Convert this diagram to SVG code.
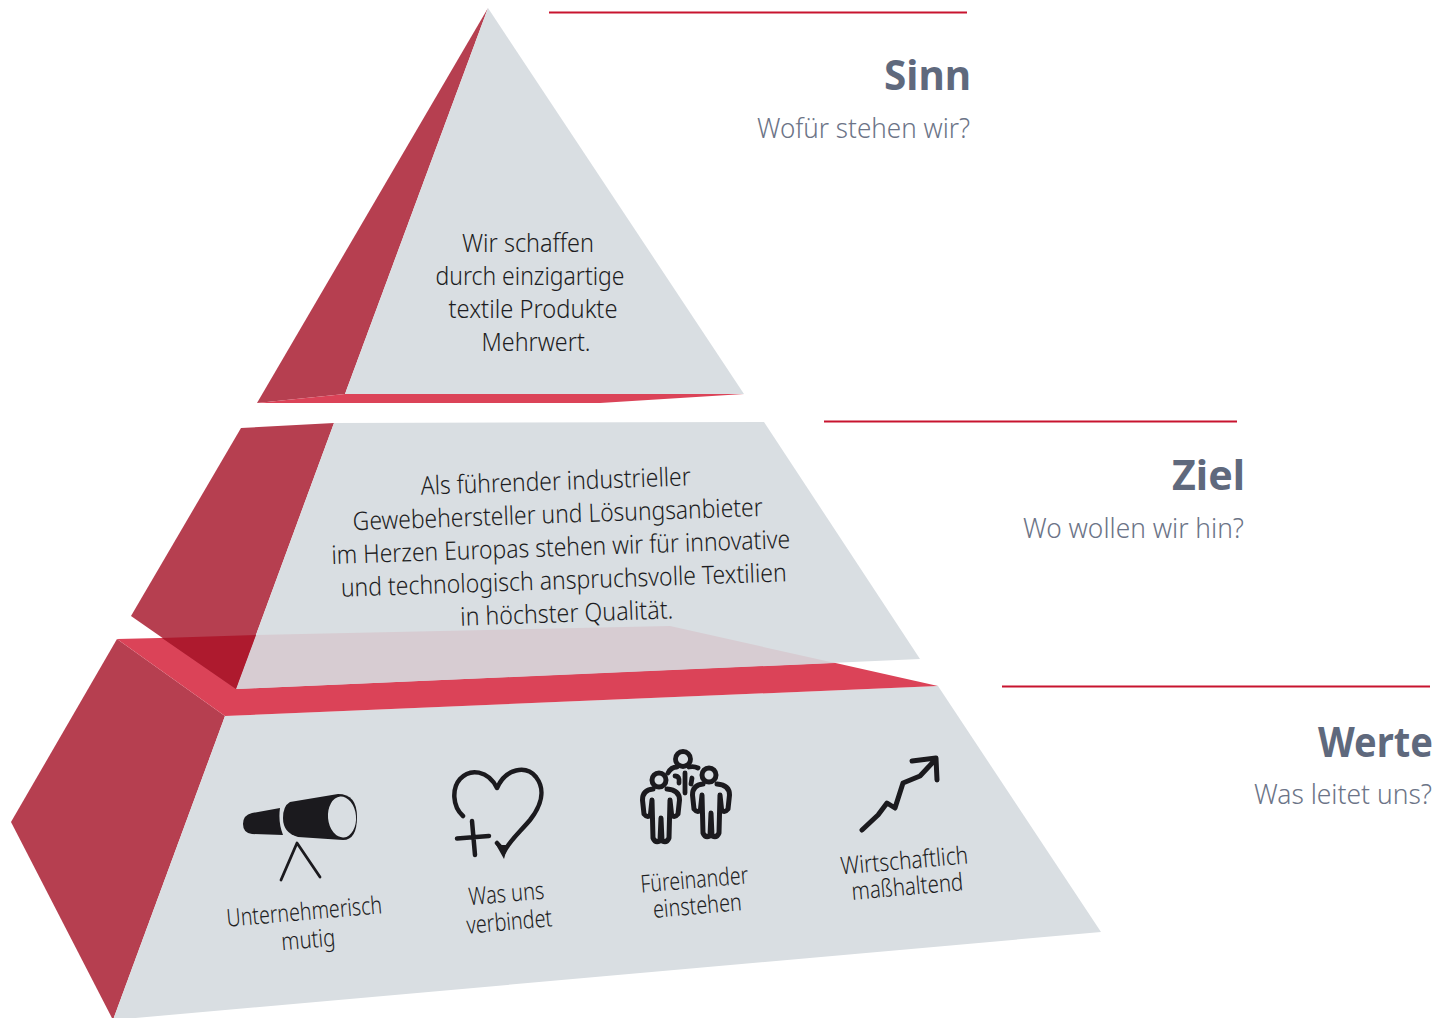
<svg xmlns="http://www.w3.org/2000/svg" width="1441" height="1018" viewBox="0 0 1441 1018">
<style>
.g{fill:#d9dee2}.s{fill:#b63f50}.t{fill:#db4358}
.b{font-family:"Noto Sans","Liberation Sans",sans-serif;font-weight:300;fill:#1d1d22;text-anchor:middle}
.m{font-size:25.500px}.l{font-size:24.500px}
.h{font-family:"Noto Sans","Liberation Sans",sans-serif;font-weight:700;font-size:41px;fill:#5f697d;text-anchor:end}
.q{font-family:"Noto Sans","Liberation Sans",sans-serif;font-weight:300;font-size:28px;fill:#6c7487;text-anchor:end}
.r{stroke:#c8142f;stroke-width:2;fill:none}
.i{fill:none;stroke:#1b1a1e;stroke-linecap:round;stroke-linejoin:round}
</style>
<defs>
<g id="person" class="i" stroke-width="5">
<circle cx="-2" cy="0" r="7"/>
<path d="M-8,9Q-18.500,10-18.500,20L-17,34Q-13,39-10.500,34L-9,20L-8,58Q-6,63-1,61L0,38L1,61Q6,63 8,58L9,20L10.500,34Q13,39 17,34L18.500,20Q18.500,10 6,9"/>
</g>
</defs>
<g id="tier-werte">
<polygon class="s" points="117,639 225,716 113,1020 11,822"/>
<polygon class="g" points="225,716 938,686 1101,932 113,1020"/>
<polygon class="t" points="117,639 670,626 938,686 225,716"/>
</g>
<g id="tier-ziel">
<polygon class="s" points="241,428 334,423 236,689 131,616"/>
<polygon class="g" points="334,423 764,422 920,659 236,689"/>
<polygon fill="#d7ccd2" points="256,635 670,626 835,663 236,689"/>
<polygon fill="#ae1a2e" points="162,638 256,635 236,689"/>
<text class="b m" textLength="270" lengthAdjust="spacingAndGlyphs" transform="rotate(-2 556 490)" x="556" y="490">Als führender industrieller</text>
<text class="b m" textLength="410" lengthAdjust="spacingAndGlyphs" transform="rotate(-2 558 523)" x="558" y="523">Gewebehersteller und Lösungsanbieter</text>
<text class="b m" textLength="459" lengthAdjust="spacingAndGlyphs" transform="rotate(-2 561 556)" x="561" y="556">im Herzen Europas stehen wir für innovative</text>
<text class="b m" textLength="446" lengthAdjust="spacingAndGlyphs" transform="rotate(-2 564 589)" x="564" y="589">und technologisch anspruchsvolle Textilien</text>
<text class="b m" textLength="213" lengthAdjust="spacingAndGlyphs" transform="rotate(-2 567 622)" x="567" y="622">in höchster Qualität.</text>
</g>
<g id="tier-sinn">
<polygon class="s" points="488,8 345,394 257,403"/>
<polygon class="g" points="488,8 744,394 345,394"/>
<polygon class="t" points="257,403 345,394 744,394 600,403"/>
<text class="b m" textLength="132" lengthAdjust="spacingAndGlyphs" x="528" y="252">Wir schaffen</text>
<text class="b m" textLength="189" lengthAdjust="spacingAndGlyphs" x="530" y="285">durch einzigartige</text>
<text class="b m" textLength="169" lengthAdjust="spacingAndGlyphs" x="533" y="318">textile Produkte</text>
<text class="b m" textLength="109" lengthAdjust="spacingAndGlyphs" x="536" y="351">Mehrwert.</text>
</g>
<g id="icon-telescope">
<path fill="#1b1a1e" d="M280,808L252,813Q243,815 243,824Q243,833 252,834L283,835Q278,822 280,808Z"/>
<path fill="#1b1a1e" d="M290,802L338,794Q357,794 357,817Q357,840 343,840L298,837Q283,833 283,818Q283,806 290,802Z"/>
<ellipse cx="342" cy="817" rx="14" ry="20.500" fill="#d9dee2" transform="rotate(-5 342 817)"/>
<path class="i" stroke-width="2.800" d="M281,880L297,843L320,877"/>
<text class="b l" textLength="156" lengthAdjust="spacingAndGlyphs" transform="rotate(-5 305 920)" x="305" y="920">Unternehmerisch</text>
<text class="b l" textLength="54" lengthAdjust="spacingAndGlyphs" transform="rotate(-5 309 948)" x="309" y="948">mutig</text>
</g>
<g id="icon-heart">
<path class="i" stroke-width="4.500" stroke-linecap="butt" d="M463,816C452,806 452,788 460,779C470,768 488,770 497,788C506,768 526,765 536,777C546,790 541,806 530,820C520,832 510,840 504,852C502,848 499,845 497,843"/>
<path fill="#1b1a1e" d="M495,843L501,845L508,845L504,859Z"/>
<path class="i" stroke-width="4.500" d="M457,838.500L489,836M472,821L475,855"/>
<text class="b l" textLength="76" lengthAdjust="spacingAndGlyphs" transform="rotate(-5 507 902)" x="507" y="902">Was uns</text>
<text class="b l" textLength="86" lengthAdjust="spacingAndGlyphs" transform="rotate(-5 510 930)" x="510" y="930">verbindet</text>
</g>
<g id="icon-people">
<g class="i" stroke-width="4.800">
<circle cx="683" cy="759" r="7.500"/>
<path d="M668,773Q671,767 677,767M689,767Q694,766 698,768M675,776Q680,776 679,783M685,773L685,793M692,778L691,784"/>
</g>
<use href="#person" x="661" y="780"/>
<use href="#person" x="711" y="775"/>
<text class="b l" textLength="108" lengthAdjust="spacingAndGlyphs" transform="rotate(-5 695 888)" x="695" y="888">Füreinander</text>
<text class="b l" textLength="89" lengthAdjust="spacingAndGlyphs" transform="rotate(-5 698 914)" x="698" y="914">einstehen</text>
</g>
<g id="icon-growth">
<path class="i" stroke-width="5" d="M862,830L878,815L887,803L895,808L903,783L920,776L935,760M912,761L936,758L937,780"/>
<text class="b l" textLength="128" lengthAdjust="spacingAndGlyphs" transform="rotate(-5 905 869)" x="905" y="869">Wirtschaftlich</text>
<text class="b l" textLength="112" lengthAdjust="spacingAndGlyphs" transform="rotate(-5 908 895)" x="908" y="895">maßhaltend</text>
</g>
<g id="connectors">
<line class="r" x1="549" y1="12.500" x2="967" y2="12.500"/>
<line class="r" x1="824" y1="421.500" x2="1237" y2="421.500"/>
<line class="r" x1="1002" y1="686.500" x2="1430" y2="686.500"/>
</g>
<g id="label-sinn">
<text class="h" textLength="87" lengthAdjust="spacingAndGlyphs" x="971" y="90">Sinn</text>
<text class="q" textLength="213" lengthAdjust="spacingAndGlyphs" x="970" y="138">Wofür stehen wir?</text>
</g>
<g id="label-ziel">
<text class="h" textLength="73" lengthAdjust="spacingAndGlyphs" x="1245" y="490">Ziel</text>
<text class="q" textLength="221" lengthAdjust="spacingAndGlyphs" x="1244" y="538">Wo wollen wir hin?</text>
</g>
<g id="label-werte">
<text class="h" textLength="115" lengthAdjust="spacingAndGlyphs" x="1433" y="757">Werte</text>
<text class="q" textLength="178" lengthAdjust="spacingAndGlyphs" x="1432" y="804">Was leitet uns?</text>
</g>
</svg>
